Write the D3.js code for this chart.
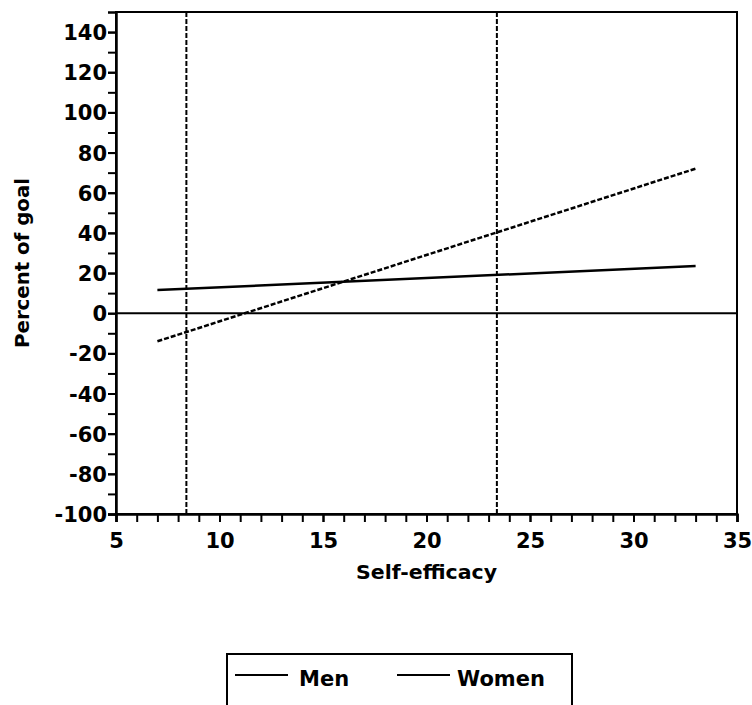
<!DOCTYPE html>
<html><head><meta charset="utf-8">
<script src="https://cdn.jsdelivr.net/npm/d3@7"></script>
<style>
html,body{margin:0;padding:0;background:#fff;}
svg text{font-family:"DejaVu Sans",Arial,Helvetica,sans-serif;font-weight:bold;fill:#000;}
</style></head>
<body>
<script>
// Data
const seriesNames = ["Men", "Women"];
const xEnds = [7, 33];
const menValues = [11.5, 23.5];
const womenValues = [-14, 72];
const xRefLines = [8.4, 23.4];
const yRefLines = [0];
const xTicks = [5, 10, 15, 20, 25, 30, 35];
const yTicks = [-100, -80, -60, -40, -20, 0, 20, 40, 60, 80, 100, 120, 140];
const xDomain = [5, 35];
const yDomain = [-100, 150];

const W = 752, H = 705;
const m = {left: 116, right: 15, top: 12, bottom: 191};
const pw = W - m.left - m.right, ph = H - m.top - m.bottom;

const svg = d3.select("body").append("svg").attr("width", W).attr("height", H);
const g = svg.append("g").attr("transform", `translate(${m.left},${m.top})`);

const x = d3.scaleLinear().domain(xDomain).range([0, pw]);
const y = d3.scaleLinear().domain(yDomain).range([ph, 0]);
const fmt = d => String(d).replace("\u2212", "-");

// frame
g.append("rect").attr("x", 0).attr("y", 0).attr("width", pw).attr("height", ph)
  .attr("fill", "none").attr("stroke", "#000").attr("stroke-width", 2);

// minor ticks
const xMinor = d3.range(xDomain[0], xDomain[1] + 0.001, 1);
const yMinor = d3.range(yDomain[0], 140 + 0.001, 10);

const xAxis = g.append("g").attr("transform", `translate(0,${ph})`)
  .call(d3.axisBottom(x).tickValues(xMinor).tickSize(8).tickFormat(""));
xAxis.append("g").call(d3.axisBottom(x).tickValues(xTicks).tickSize(8).tickPadding(6).tickFormat(fmt));
const yAxis = g.append("g")
  .call(d3.axisLeft(y).tickValues(yMinor).tickSize(8).tickFormat(""));
yAxis.append("g").call(d3.axisLeft(y).tickValues(yTicks).tickSize(8).tickPadding(1).tickFormat(fmt));

g.selectAll(".domain").attr("stroke", "#000").attr("stroke-width", 2);
g.selectAll(".tick line").attr("stroke", "#000").attr("stroke-width", 2);
g.selectAll(".tick text").attr("font-size", 21).attr("font-family", "DejaVu Sans, Arial, sans-serif").attr("font-weight", "bold");
xAxis.selectAll(".tick text").attr("y", null).attr("dy", null).attr("y", 34);
yAxis.selectAll(".tick text").attr("dy", "0.36em");

// reference lines
g.selectAll(".vref").data(xRefLines).enter().append("line")
  .attr("x1", d => x(d)).attr("x2", d => x(d)).attr("y1", 0).attr("y2", ph)
  .attr("stroke", "#000").attr("stroke-width", 2).attr("stroke-dasharray", "5,2");
g.selectAll(".href").data(yRefLines).enter().append("line")
  .attr("x1", 0).attr("x2", pw).attr("y1", d => y(d)).attr("y2", d => y(d))
  .attr("stroke", "#000").attr("stroke-width", 2);

// series
const line = d3.line().x(d => x(d[0])).y(d => y(d[1]));
const menPts = xEnds.map((v, i) => [v, menValues[i]]);
const womenPts = xEnds.map((v, i) => [v, womenValues[i]]);
g.append("path").datum(menPts).attr("d", line).attr("fill", "none")
  .attr("stroke", "#000").attr("stroke-width", 2.5);
g.append("path").datum(womenPts).attr("d", line).attr("fill", "none")
  .attr("stroke", "#000").attr("stroke-width", 2.5).attr("stroke-dasharray", "5,2");

// axis titles
svg.append("text").attr("x", m.left + pw / 2).attr("y", 579).attr("text-anchor", "middle")
  .attr("font-size", 20).attr("textLength", 141).attr("lengthAdjust", "spacingAndGlyphs").text("Self-efficacy");
svg.append("text").attr("transform", `translate(29,263) rotate(-90)`)
  .attr("text-anchor", "middle").attr("font-size", 20).attr("textLength", 170).attr("lengthAdjust", "spacingAndGlyphs").text("Percent of goal");

// legend
const lg = svg.append("g");
lg.append("rect").attr("x", 227).attr("y", 654).attr("width", 345).attr("height", 80)
  .attr("fill", "none").attr("stroke", "#000").attr("stroke-width", 2);
const legendX = [235, 397];
const legendTextX = [299, 457];
seriesNames.forEach((name, i) => {
  lg.append("line").attr("x1", legendX[i]).attr("x2", legendX[i] + 53).attr("y1", 675).attr("y2", 675)
    .attr("stroke", "#000").attr("stroke-width", 2);
  lg.append("text").attr("x", legendTextX[i]).attr("y", 686).attr("font-size", 21).text(name);
});
</script>
</body></html>
